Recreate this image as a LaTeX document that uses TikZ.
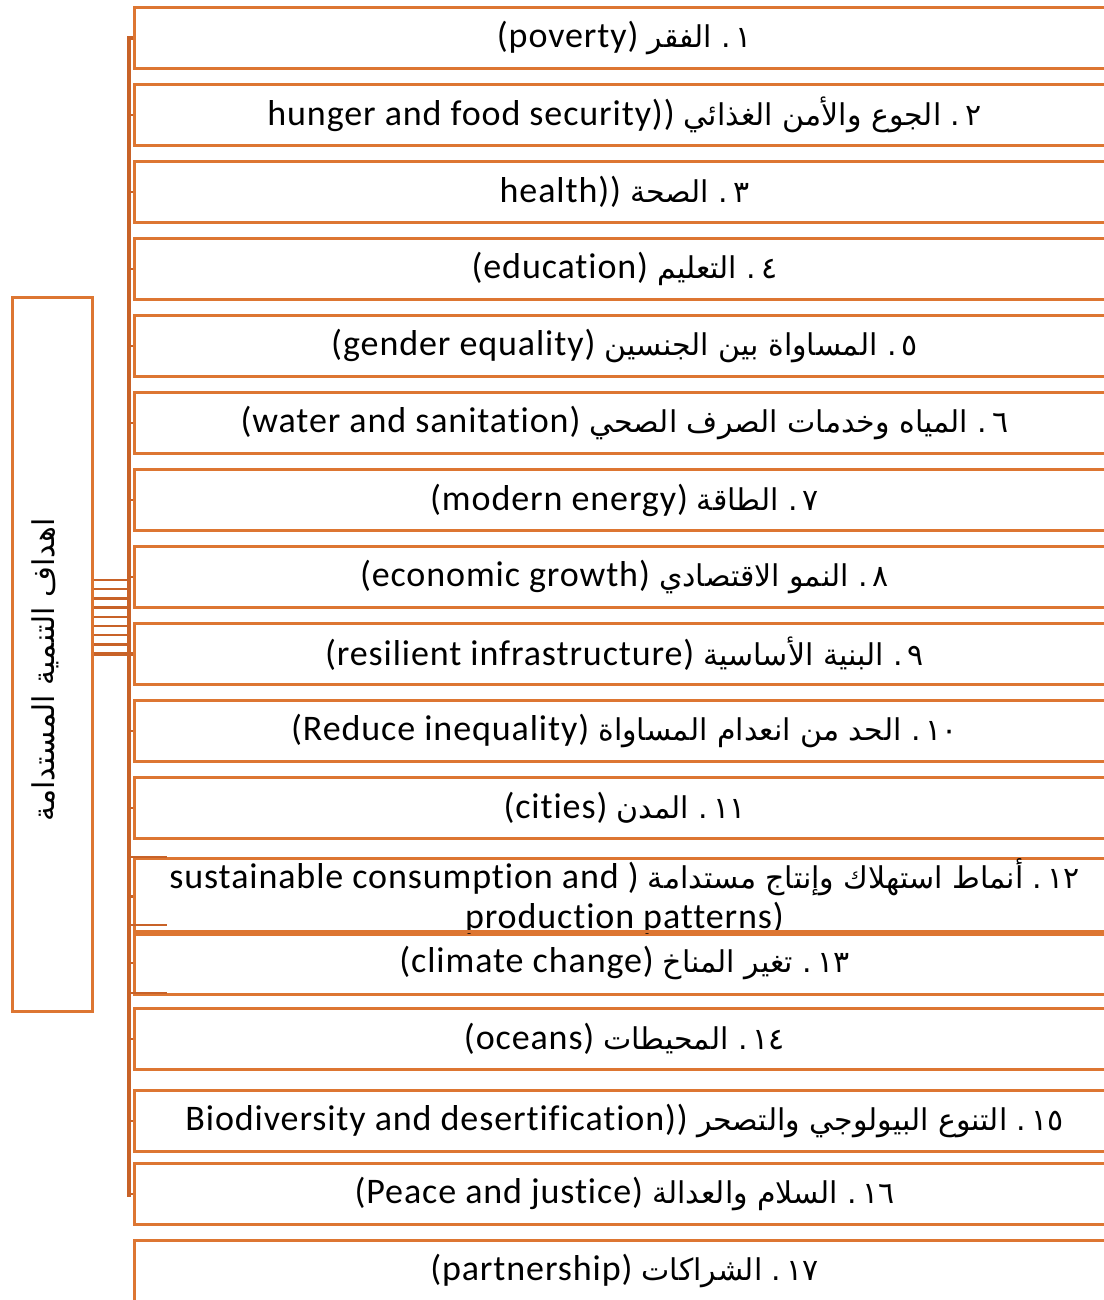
\documentclass[tikz,border=0pt]{standalone}
\usepackage{fontspec}
\setmainfont{Carlito}[LetterSpace=2.5,Ligatures=NoCommon]
\newfontfamily\arabicfont[Script=Arabic]{DejaVu Sans}
\TeXXeTstate=1
\definecolor{boxor}{RGB}{221,118,50}
\definecolor{busor}{RGB}{200,98,40}
\newcommand{\artxt}[1]{{\arabicfont\fontsize{30}{36}\selectfont\beginR #1\endR}}
\tikzset{
  goal/.style={draw=boxor, line width=3pt, minimum width=980pt, inner sep=0pt,
    align=center, anchor=north west, font=\fontsize{36}{40}\selectfont},
  rootbox/.style={draw=boxor, line width=3pt, minimum width=80pt, minimum height=714pt,
    inner sep=0pt, anchor=north west},
  bus/.style={draw=busor, line width=3.4pt},
  stub/.style={draw=busor, line width=2.4pt}
}
\begin{document}
\begin{tikzpicture}[x=1pt,y=-1pt]
\useasboundingbox (0,0) rectangle (1103,1300);
% root
\node[rootbox] (root) at (11,296) {};
\node[rotate=90] (rootlabel) at (45,670) {\artxt{اهداف التنمية المستدامة}};
% goals
\node[goal, minimum height=61pt] (g1) at (133,6) {(poverty) \artxt{١\,.\ الفقر}};
\node[goal, minimum height=61pt] (g2) at (133,83) {hunger and food security)) \artxt{٢\,.\ الجوع والأمن الغذائي}};
\node[goal, minimum height=61pt] (g3) at (133,160) {health)) \artxt{٣\,.\ الصحة}};
\node[goal, minimum height=61pt] (g4) at (133,237) {(education) \artxt{٤\,.\ التعليم}};
\node[goal, minimum height=61pt] (g5) at (133,314) {(gender equality) \artxt{٥\,.\ المساواة بين الجنسين}};
\node[goal, minimum height=61pt] (g6) at (133,391) {(water and sanitation) \artxt{٦\,.\ المياه وخدمات الصرف الصحي}};
\node[goal, minimum height=61pt] (g7) at (133,468) {(modern energy) \artxt{٧\,.\ الطاقة}};
\node[goal, minimum height=61pt] (g8) at (133,545) {(economic growth) \artxt{٨\,.\ النمو الاقتصادي}};
\node[goal, minimum height=61pt] (g9) at (133,622) {(resilient infrastructure) \artxt{٩\,.\ البنية الأساسية}};
\node[goal, minimum height=61pt] (g10) at (133,699) {(Reduce inequality) \artxt{١٠\,.\ الحد من انعدام المساواة}};
\node[goal, minimum height=61pt] (g11) at (133,776) {(cities) \artxt{١١\,.\ المدن}};
\node[goal, minimum height=62pt] (g12) at (133,857) {sustainable consumption and ) \artxt{١٢\,.\ أنماط استهلاك وإنتاج مستدامة}\\production patterns)};
\node[goal, minimum height=63pt] (g13) at (133,930) {(climate change) \artxt{١٣\,.\ تغير المناخ}};
\node[goal, minimum height=61pt] (g14) at (133,1007) {(oceans) \artxt{١٤\,.\ المحيطات}};
\node[goal, minimum height=61pt] (g15) at (133,1089) {Biodiversity and desertification)) \artxt{١٥\,.\ التنوع البيولوجي والتصحر}};
\node[goal, minimum height=61pt] (g16) at (133,1162) {(Peace and justice) \artxt{١٦\,.\ السلام والعدالة}};
\node[goal, minimum height=61pt] (g17) at (133,1239) {(partnership) \artxt{١٧\,.\ الشراكات}};
% bus
\coordinate (busx) at (129,0);
\coordinate (busend) at (129,1197);
\draw[bus] (g1.west) -- (g1.west -| busx) -- (busend);
\foreach \i in {2,...,16} {
  \draw[stub] (g\i.west -| busx) -- (g\i.west);
}
% connectors from root
\foreach \y in {580,589.2,598.4,607.6,616.8,626,635.2,644.4} {
  \draw[stub] (root.east |- 0,\y) -- (busx |- 0,\y);
}
\draw[bus] (root.east |- g9.west) -- (g9.west);
% stray stubs
\foreach \y in {857,925,993} {
  \coordinate (s\y) at (167,\y);
  \draw[stub] (busx |- s\y) -- (s\y);
}
\end{tikzpicture}
\end{document}
